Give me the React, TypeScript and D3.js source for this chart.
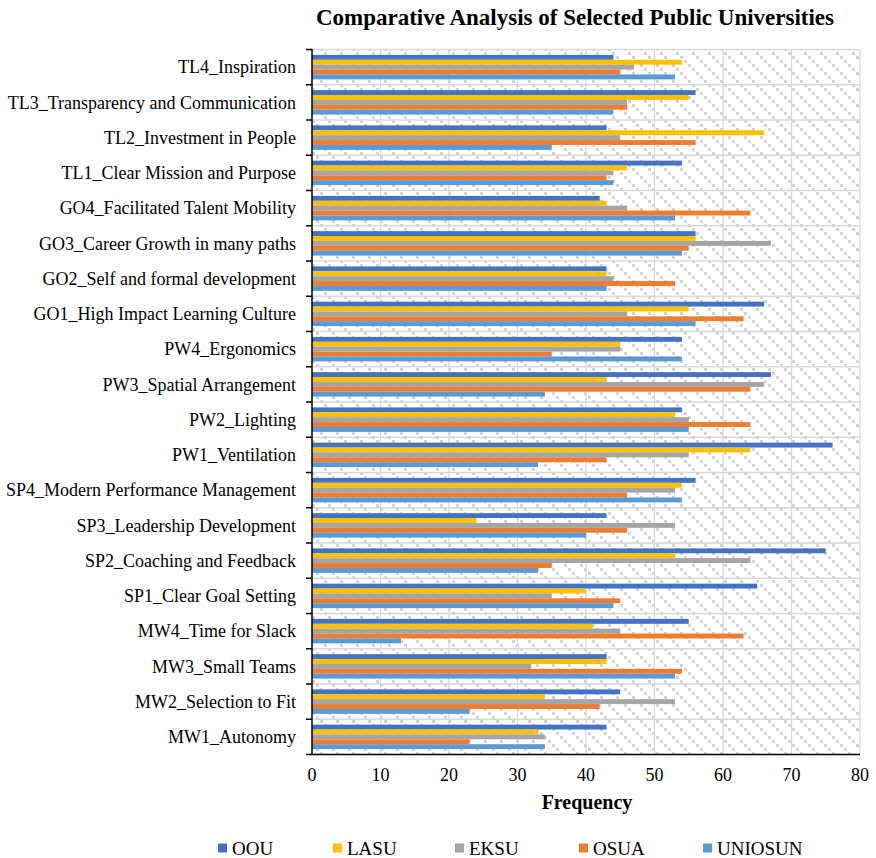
import React, { useEffect, useRef } from "react";
import * as d3 from "d3";

// categories top to bottom
const categories = [
  "TL4_Inspiration",
  "TL3_Transparency and Communication",
  "TL2_Investment in People",
  "TL1_Clear Mission and Purpose",
  "GO4_Facilitated Talent Mobility",
  "GO3_Career Growth in many paths",
  "GO2_Self and formal development",
  "GO1_High Impact Learning Culture",
  "PW4_Ergonomics",
  "PW3_Spatial Arrangement",
  "PW2_Lighting",
  "PW1_Ventilation",
  "SP4_Modern Performance Management",
  "SP3_Leadership Development",
  "SP2_Coaching and Feedback",
  "SP1_Clear Goal Setting",
  "MW4_Time for Slack",
  "MW3_Small Teams",
  "MW2_Selection to Fit",
  "MW1_Autonomy",
];

const series = ["OOU", "LASU", "EKSU", "OSUA", "UNIOSUN"];
const colors = ["#4472C4", "#FFC000", "#A5A5A5", "#ED7D31", "#5B9BD5"];

const oou = [44, 56, 43, 54, 42, 56, 43, 66, 54, 67, 54, 76, 56, 43, 75, 65, 55, 43, 45, 43];
const lasu = [54, 55, 66, 46, 43, 56, 43, 55, 45, 43, 53, 64, 54, 24, 53, 40, 41, 43, 34, 33];
const eksu = [47, 46, 45, 44, 46, 67, 44, 46, 45, 66, 55, 55, 53, 53, 64, 35, 45, 32, 53, 34];
const osua = [45, 46, 56, 43, 64, 55, 53, 63, 35, 64, 64, 43, 46, 46, 35, 45, 63, 54, 42, 23];
const uniosun = [53, 44, 35, 44, 53, 54, 43, 56, 54, 34, 55, 33, 54, 40, 33, 44, 13, 53, 23, 34];

const xTicks = [0, 10, 20, 30, 40, 50, 60, 70, 80];

export default function App() {
  const ref = useRef<SVGSVGElement>(null);

  useEffect(() => {
    const width = 876;
    const height = 858;
    const svg = d3.select(ref.current);
    svg.selectAll("*").remove();

    const font = "'Liberation Serif', 'Times New Roman', serif";
    const values = [oou, lasu, eksu, osua, uniosun];

    const x = d3.scaleLinear().domain([0, 80]).range([312, 860]);
    const y = d3.scaleBand().domain(categories).range([49.5, 754.5]);
    const inner = d3
      .scaleBand()
      .domain(series)
      .range([5.4, y.bandwidth() - 5.4]);

    // background pattern (diagonal dotted stripes)
    const defs = svg.append("defs");
    const pat = defs
      .append("pattern")
      .attr("id", "diag")
      .attr("patternUnits", "userSpaceOnUse")
      .attr("width", 16)
      .attr("height", 16);
    pat.append("rect").attr("width", 16).attr("height", 16).attr("fill", "#fff");
    [0, 4, 8, 12].forEach((o) => {
      pat
        .append("rect")
        .attr("x", o)
        .attr("y", o)
        .attr("width", 3)
        .attr("height", 3)
        .attr("fill", "#d4d4d4");
    });

    svg
      .append("rect")
      .attr("x", x(0))
      .attr("y", y.range()[0])
      .attr("width", x(80) - x(0))
      .attr("height", y.range()[1] - y.range()[0])
      .attr("fill", "url(#diag)");

    // gridlines
    const grid = svg.append("g").attr("stroke", "#d9d9d9").attr("stroke-width", 1.3);
    grid
      .selectAll("line.v")
      .data(xTicks.slice(1))
      .join("line")
      .attr("x1", (d) => x(d))
      .attr("x2", (d) => x(d))
      .attr("y1", y.range()[0])
      .attr("y2", y.range()[1]);
    const bounds = categories.map((c) => y(c) as number);
    grid
      .selectAll("line.h")
      .data(bounds)
      .join("line")
      .attr("x1", x(0))
      .attr("x2", x(80))
      .attr("y1", (d) => d)
      .attr("y2", (d) => d);

    // bars
    const groups = svg
      .append("g")
      .selectAll("g")
      .data(categories)
      .join("g")
      .attr("transform", (d) => `translate(0,${y(d)})`);

    groups
      .selectAll("rect")
      .data((d, i) => series.map((s, j) => ({ s, j, v: values[j][i] })))
      .join("rect")
      .attr("x", x(0))
      .attr("y", (d) => inner(d.s) as number)
      .attr("width", (d) => x(d.v) - x(0))
      .attr("height", inner.bandwidth())
      .attr("fill", (d) => colors[d.j]);

    // axes
    svg
      .append("line")
      .attr("x1", x(0))
      .attr("x2", x(0))
      .attr("y1", y.range()[0] - 0.5)
      .attr("y2", y.range()[1])
      .attr("stroke", "#000")
      .attr("stroke-width", 1.5);
    svg
      .append("line")
      .attr("x1", x(0))
      .attr("x2", x(80))
      .attr("y1", y.range()[1])
      .attr("y2", y.range()[1])
      .attr("stroke", "#000")
      .attr("stroke-width", 1.5);

    svg
      .append("g")
      .selectAll("line")
      .data([...bounds, y.range()[1]])
      .join("line")
      .attr("x1", x(0) - 6)
      .attr("x2", x(0))
      .attr("y1", (d) => d)
      .attr("y2", (d) => d)
      .attr("stroke", "#000")
      .attr("stroke-width", 1.5);

    // category labels
    svg
      .append("g")
      .selectAll("text")
      .data(categories)
      .join("text")
      .attr("x", 296)
      .attr("y", (d) => (y(d) as number) + y.bandwidth() / 2)
      .attr("dy", "0.35em")
      .attr("text-anchor", "end")
      .attr("font-family", font)
      .attr("font-size", 18)
      .attr("fill", "#000")
      .text((d) => d);

    // x tick labels
    svg
      .append("g")
      .selectAll("text")
      .data(xTicks)
      .join("text")
      .attr("x", (d) => x(d))
      .attr("y", 781)
      .attr("text-anchor", "middle")
      .attr("font-family", font)
      .attr("font-size", 18)
      .text((d) => d);

    svg
      .append("text")
      .attr("x", 587)
      .attr("y", 809)
      .attr("text-anchor", "middle")
      .attr("font-family", font)
      .attr("font-size", 20)
      .attr("font-weight", "bold")
      .text("Frequency");

    svg
      .append("text")
      .attr("x", 575)
      .attr("y", 25)
      .attr("text-anchor", "middle")
      .attr("font-family", font)
      .attr("font-size", 23)
      .attr("font-weight", "bold")
      .text("Comparative Analysis of Selected Public Universities");

    // legend
    const legendX = [218, 333, 455, 579, 703];
    const legend = svg
      .append("g")
      .selectAll("g")
      .data(series)
      .join("g")
      .attr("transform", (d, i) => `translate(${legendX[i]},848)`);
    legend
      .append("rect")
      .attr("x", 0)
      .attr("y", -4.5)
      .attr("width", 9)
      .attr("height", 9)
      .attr("fill", (d, i) => colors[i]);
    legend
      .append("text")
      .attr("x", 14)
      .attr("y", 6.5)
      .attr("font-family", font)
      .attr("font-size", 19)
      .text((d) => d);

    svg.attr("width", width).attr("height", height);
  }, []);

  return (
    <svg
      ref={ref}
      width={876}
      height={858}
      style={{ position: "absolute", left: 0, top: 0, background: "#fff" }}
    />
  );
}
